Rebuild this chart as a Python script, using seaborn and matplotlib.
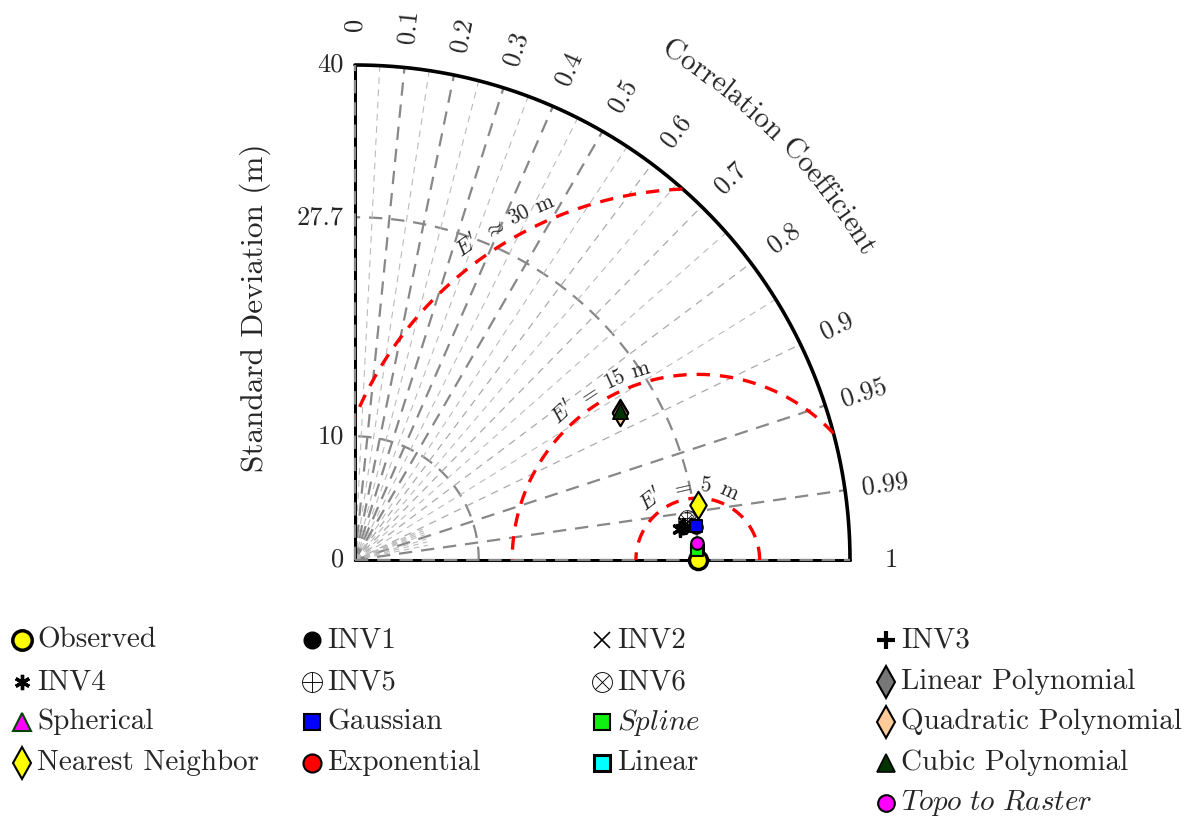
import numpy as np
import matplotlib
matplotlib.use('Agg')
import matplotlib.pyplot as plt
from matplotlib.lines import Line2D
import pandas as pd
import seaborn as sns

sns.set_theme(style="white")
plt.rcParams['font.family'] = ['cmr10', 'DejaVu Serif']
plt.rcParams['mathtext.fontset'] = 'cm'
plt.rcParams['axes.unicode_minus'] = False
plt.rcParams['axes.formatter.use_mathtext'] = True

# ---- data ----
ref_std = 27.7
models = ['Observed', 'INV1', 'INV2', 'INV3', 'INV4', 'INV5', 'INV6',
          'Linear Polynomial', 'Spherical', 'Gaussian', 'Spline',
          'Quadratic Polynomial', 'Nearest Neighbor', 'Exponential', 'Linear',
          'Cubic Polynomial', 'Topo to Raster']
stds = [27.7, 26.63, 26.86, 26.74, 26.42, 27.02, 26.94,
        24.50, 27.66, 27.68, 27.66,
        24.48, 28.06, 27.67, 27.66,
        24.54, 27.67]
corrs = [1.0, 0.9952, 0.9941, 0.9947, 0.9955, 0.9920, 0.9929,
         0.8735, 0.9998, 0.9952, 0.9996,
         0.8745, 0.9873, 0.9953, 0.9996,
         0.8722, 0.9988]
legend_labels = ['Observed', 'INV1', 'INV2', 'INV3', 'INV4', 'INV5', 'INV6',
                 'Linear Polynomial', 'Spherical', 'Gaussian', r'$\mathit{Spline}$',
                 'Quadratic Polynomial', 'Nearest Neighbor', 'Exponential', 'Linear',
                 'Cubic Polynomial', r'$\mathit{Topo\ to\ Raster}$']
std_ticks = [0, 10, 27.7, 40]
std_ticklabels = ['0', '10', '27.7', '40']
cor_ticks = [0, 0.1, 0.2, 0.3, 0.4, 0.5, 0.6, 0.7, 0.8, 0.9, 0.95, 0.99, 1]
cor_ticklabels = ['0', '0.1', '0.2', '0.3', '0.4', '0.5', '0.6', '0.7', '0.8', '0.9', '0.95', '0.99', '1']
rms_levels = [5, 15, 30]
rms_labels = [[r"$E'$", ' ', r'$=$', ' ', '5', ' ', 'm'],
              [r"$E'$", ' ', r'$=$', ' ', '15', ' ', 'm'],
              [r"$E'$", ' ', r'$\approx$', ' ', '30', ' ', 'm']]

# marker styles: (marker, face, edge, plot size, legend size, edge width, zorder)
styles = {
    'Observed': ('o', '#ffff00', 'black', 13, 14, 2.5, 5),
    'INV1': ('o', 'black', 'black', 9, 12, 1, 5),
    'INV2': ('x', 'black', 'black', 10, 11, 1.2, 5),
    'INV3': ('+', 'black', 'black', 12, 13, 3, 5),
    'INV4': ((6, 2, 0), 'black', 'black', 10, 11, 2.4, 5),
    'INV5': (r'$\oplus$', 'black', 'black', 12, 15, 0, 5),
    'INV6': (r'$\otimes$', 'black', 'black', 12, 15, 0, 5),
    'Linear Polynomial': ('d', '#777777', 'black', 13, 16, 1.5, 4.5),
    'Spherical': ('^', '#ff00ff', '#004400', 10, 13, 1.5, 4.5),
    'Gaussian': ('s', '#0000ff', 'black', 9, 11, 1.5, 5),
    'Spline': ('s', '#11ee11', 'black', 9, 11, 1.5, 5),
    'Quadratic Polynomial': ('d', '#ffcc99', 'black', 13, 16, 1.5, 4.6),
    'Nearest Neighbor': ('d', '#ffff00', 'black', 14, 16, 1.5, 5),
    'Exponential': ('o', '#ff0000', 'black', 9, 13, 1.5, 4.5),
    'Linear': ('s', '#00ffff', 'black', 9, 11, 2.2, 4.5),
    'Cubic Polynomial': ('^', '#003300', 'black', 11, 13, 1.2, 5),
    'Topo to Raster': ('o', '#ff00ff', 'black', 9, 12, 1.5, 5),
}

W, H = 1195, 819
R = 40.0
fig = plt.figure(figsize=(W / 100, H / 100), dpi=100)
ax = fig.add_axes([355 / W, (H - 560) / H, 495 / W, 495 / H])
upp = R / 495.0  # data units per pixel

# axes frame
ax.plot([0, 0], [0, R], color='black', lw=2.2, clip_on=False, zorder=2)
ax.plot([0, R], [0, 0], color='black', lw=2.2, clip_on=False, zorder=2)
th = np.linspace(0, np.pi / 2, 400)
ax.plot(R * np.cos(th), R * np.sin(th), color='black', lw=2.6, clip_on=False, zorder=2)

# std arcs
for s in [10, ref_std]:
    ax.plot(s * np.cos(th), s * np.sin(th), color='#888888', lw=1.6, ls=(0, (6, 4)), zorder=1)

# correlation lines
thick = [0, 0.1, 0.2, 0.3, 0.4, 0.5, 0.95, 0.99, 1]
for c in cor_ticks:
    a = np.arccos(c)
    if c in thick:
        ax.plot([0, R * np.cos(a)], [0, R * np.sin(a)], color='#888888', lw=1.6,
                ls=(0, (6, 4)), zorder=3 if c in (0, 1) else 1, clip_on=False)
    else:
        ax.plot([0, R * np.cos(a)], [0, R * np.sin(a)], color='#aaaaaa', lw=0.9,
                ls=(0, (6, 5)), zorder=1)
for c in [0.05, 0.15, 0.25, 0.35, 0.45, 0.55, 0.65, 0.75, 0.85]:
    a = np.arccos(c)
    ax.plot([0, R * np.cos(a)], [0, R * np.sin(a)], color='#bbbbbb', lw=0.8,
            ls=(0, (6, 5)), zorder=1)
for c in [0.91, 0.92, 0.93, 0.94, 0.96, 0.97, 0.98]:
    a = np.arccos(c)
    ax.plot([0, 6 * np.cos(a)], [0, 6 * np.sin(a)], color='#bbbbbb', lw=0.8,
            ls=(0, (5, 4)), zorder=1)

# centred RMS arcs
phi = np.linspace(0, np.pi, 800)
for e in rms_levels:
    x = ref_std + e * np.cos(phi)
    y = e * np.sin(phi)
    keep = (np.hypot(x, y) <= R) & (x >= 0)
    ax.plot(x[keep], y[keep], color='red', lw=2.4, ls=(0, (4, 3)), zorder=4)

# points
for name, s, c in zip(models, stds, corrs):
    mk, fc, ec, ms, lms, mew, z = styles[name]
    df = pd.DataFrame({'x': [s * c], 'y': [s * np.sqrt(1 - c ** 2)]})
    sns.scatterplot(data=df, x='x', y='y', ax=ax, marker=mk, s=ms ** 2,
                    color=fc, edgecolor=ec, linewidth=mew, zorder=z, clip_on=False,
                    legend=False)
ax.set_xlim(0, R)
ax.set_ylim(0, R)
ax.axis('off')

# std tick labels
for v, lab in zip(std_ticks, std_ticklabels):
    ax.text(-0.9, v, lab, ha='right', va='center', fontsize=19, clip_on=False)
ax.text(-8.1, 20.4, 'Standard Deviation (m)', rotation=90, ha='center', va='center',
        fontsize=22.5, clip_on=False)

# correlation tick labels
for c, lab in zip(cor_ticks, cor_ticklabels):
    a = np.arccos(c)
    ax.text(43.3 * np.cos(a), 43.3 * np.sin(a), lab, rotation=np.degrees(a),
            rotation_mode='anchor', ha='center', va='center', fontsize=19, clip_on=False)

renderer = fig.canvas.get_renderer()


def curved_text(tokens, cx, cy, r, mid_deg, size):
    widths = []
    for t in tokens:
        if t == ' ':
            widths.append(0.33 * size * 100 / 72 * upp)
        else:
            tt = ax.text(0, 0, t, fontsize=size)
            widths.append(tt.get_window_extent(renderer).width * upp)
            tt.remove()
    a = np.radians(mid_deg) + sum(widths) / r / 2
    for t, w in zip(tokens, widths):
        ac = a - w / (2 * r)
        if t != ' ':
            ax.text(cx + r * np.cos(ac), cy + r * np.sin(ac), t, fontsize=size,
                    rotation=np.degrees(ac) - 90, rotation_mode='anchor',
                    ha='center', va='baseline', clip_on=False, zorder=6)
        a -= w / r


curved_text(list('Correlation Coefficient'), 0, 0, 47.8, 45, 21)
for e, toks, mid in zip(rms_levels, rms_labels, [98, 120, 120]):
    curved_text(toks, ref_std, 0, e + (0.9 if e == 30 else 0.6), mid, 15.5)

# legend laid out in 4 columns
col_x = [22, 312, 602, 886]
row_y = [640, 682, 722, 763, 803]
for i, (name, lab) in enumerate(zip(models, legend_labels)):
    col, row = i % 4, i // 4
    if i == 16:
        col, row = 3, 4
    mk, fc, ec, ms, lms, mew, z = styles[name]
    xf, yf = col_x[col] / W, 1 - row_y[row] / H
    fig.add_artist(Line2D([xf], [yf], marker=mk, markersize=lms, markerfacecolor=fc,
                          markeredgecolor=ec, markeredgewidth=mew, color=fc, ls='none',
                          transform=fig.transFigure))
    fig.text(xf + 15 / W, yf, lab, ha='left', va='center', fontsize=21)

fig.savefig('out.png', dpi=100)
